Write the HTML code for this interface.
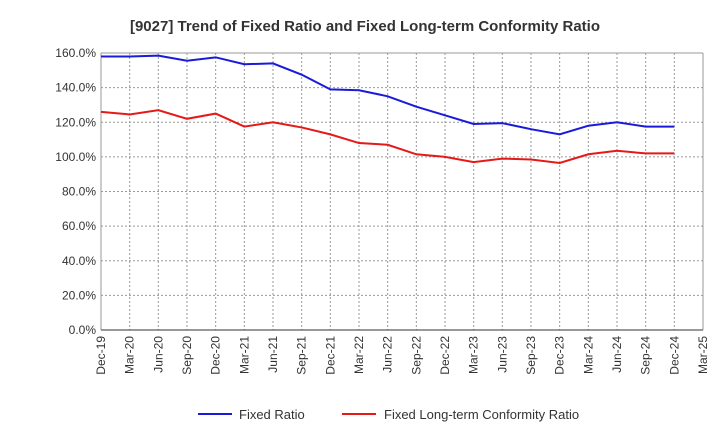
<!DOCTYPE html>
<html><head><meta charset="utf-8"><style>
body{margin:0;background:#fff;font-family:"Liberation Sans",sans-serif;}
svg text{font-family:"Liberation Sans",sans-serif;}
</style></head><body>
<svg id="chart" width="720" height="440">
<text x="365" y="31" text-anchor="middle" font-size="15" font-weight="bold" fill="#333">[9027]  Trend of Fixed Ratio and Fixed Long-term Conformity Ratio</text>
<g id="grid"></g><g id="axes"></g><g id="series"></g>
<g>
<line x1="198" y1="414" x2="232" y2="414" stroke="#1a1adb" stroke-width="2"/>
<text x="239" y="419" font-size="13" fill="#333">Fixed Ratio</text>
<line x1="342" y1="414" x2="376" y2="414" stroke="#e61919" stroke-width="2"/>
<text x="384" y="419" font-size="13" fill="#333">Fixed Long-term Conformity Ratio</text>
</g>
</svg>
<script>
const xLabels=["Dec-19","Mar-20","Jun-20","Sep-20","Dec-20","Mar-21","Jun-21","Sep-21","Dec-21","Mar-22","Jun-22","Sep-22","Dec-22","Mar-23","Jun-23","Sep-23","Dec-23","Mar-24","Jun-24","Sep-24","Dec-24","Mar-25"];
const yTicks=[0,20,40,60,80,100,120,140,160];
const fixedRatio=[158,158,158.5,155.5,157.5,153.5,154,147.5,139,138.5,135,129,124,119,119.5,116,113,118,120,117.5,117.5];
const conformityRatio=[126,124.5,127,122,125,117.5,120,117,113,108,107,101.5,100,97,99,98.5,96.5,101.5,103.5,102,102];
const L=101,R=703,T=53,B=330,NS="http://www.w3.org/2000/svg";
const xs=i=>L+(R-L)*i/(xLabels.length-1);
const ys=v=>B-(B-T)*v/160;
function mk(tag,attrs,parent){const e=document.createElementNS(NS,tag);for(const k in attrs)e.setAttribute(k,attrs[k]);parent.appendChild(e);return e;}
const grid=document.getElementById('grid'),axes=document.getElementById('axes'),ser=document.getElementById('series');
yTicks.forEach(v=>{
 const l=mk('line',{x1:L,x2:R,y1:ys(v),y2:ys(v),stroke:'#999','stroke-dasharray':v===160?'':'2,2'},grid);
 
 
 const t=mk('text',{x:L-5,y:ys(v)+4,'text-anchor':'end','font-size':12,fill:'#333'},axes);
 t.textContent=v.toFixed(1)+'%';
 
 
});
xLabels.forEach((lab,i)=>{
 const x=xs(i);
 const l=mk('line',{x1:x,x2:x,y1:T,y2:B,stroke:'#999','stroke-dasharray':(i===0||i===xLabels.length-1)?'':'2,2'},grid);
 
 
 const t=mk('text',{x:x+4,y:B+6,'text-anchor':'end','font-size':12,fill:'#333',transform:`rotate(-90 ${x+4} ${B+6})`},axes);
 t.textContent=lab;
 
 
});
const ax=mk('line',{x1:L,x2:R,y1:B,y2:B,stroke:'#333'},axes);


[[fixedRatio,'#1a1adb','fixed-ratio-line'],[conformityRatio,'#e61919','conformity-ratio-line']].forEach(([d,c,n])=>{
 const p=mk('polyline',{points:d.map((v,i)=>xs(i)+','+ys(v)).join(' '),fill:'none',stroke:c,'stroke-width':2},ser);
 
 
});
</script>
</body></html>
